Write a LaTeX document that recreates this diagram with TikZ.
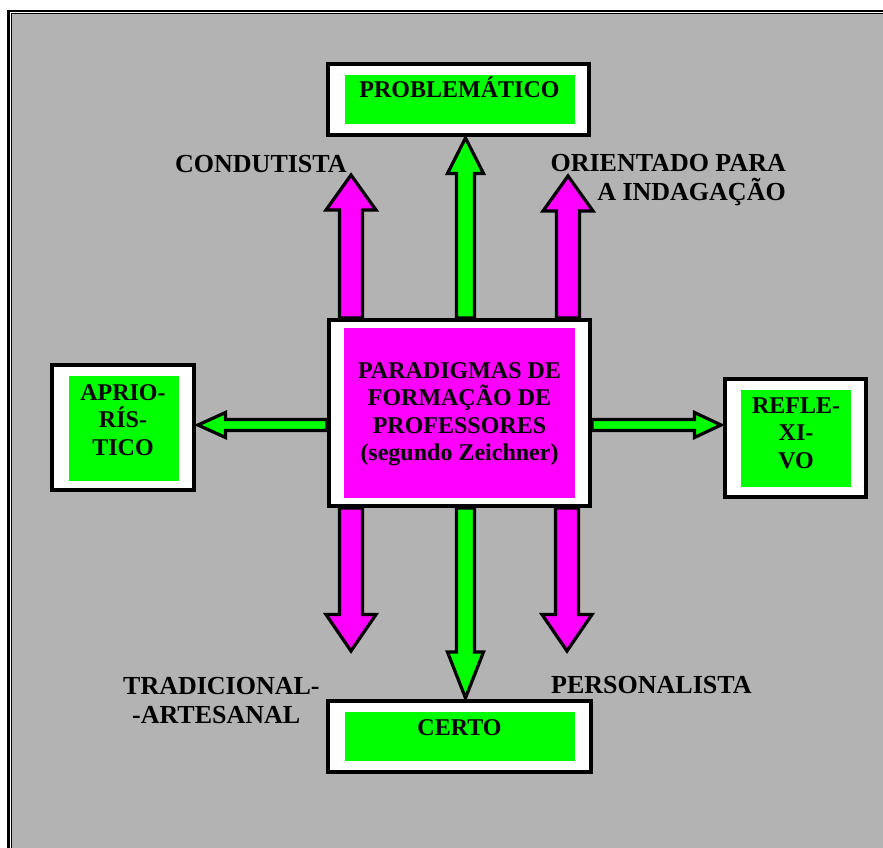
\documentclass[tikz,border=0pt]{standalone}
\usepackage{fontspec}
\setmainfont{Liberation Serif}
\usetikzlibrary{calc}

\definecolor{panelgray}{RGB}{179,179,179}
\definecolor{brightgreen}{RGB}{0,255,0}
\definecolor{brightmagenta}{RGB}{255,0,255}

\pgfdeclarelayer{base}
\pgfdeclarelayer{shafts}
\pgfsetlayers{base,shafts,main}

% stacked lines sharing one baseline grid; the node's base is the first line
\newcommand\rows[2]{\begin{tabular}[t]{@{}#1@{}}#2\end{tabular}}

% vertical block arrow: from #1 to tip #2, half shaft #3, half head #4, head length #5, fill #6
\newcommand\varrow[6]{%
  \draw[blockline,fill=#6] let \p1=(#1), \p2=(#2),
      \n2={ifthenelse(\y2>\y1,-1,1)*#5} in
    (\x1-#3,\y1) -- (\x1-#3,\y2+\n2) -- (\x1-#4,\y2+\n2) -- (\x1,\y2)
    -- (\x1+#4,\y2+\n2) -- (\x1+#3,\y2+\n2) -- (\x1+#3,\y1) -- cycle;}

% horizontal block arrow, same arguments
\newcommand\harrow[6]{%
  \draw[blockline,fill=#6] let \p1=(#1), \p2=(#2),
      \n2={ifthenelse(\x2>\x1,-1,1)*#5} in
    (\x1,\y1-#3) -- (\x2+\n2,\y1-#3) -- (\x2+\n2,\y1-#4) -- (\x2,\y1)
    -- (\x2+\n2,\y1+#4) -- (\x2+\n2,\y1+#3) -- (\x1,\y1+#3) -- cycle;}

\begin{document}
\begin{tikzpicture}[x=1pt, y=-1pt,
  frame/.style={draw=black, line width=4pt, fill=white, inner sep=0pt},
  panel/.style={fill=#1, inner sep=0pt},
  blockline/.style={draw=black, line width=3.2pt},
  caption/.style={font=\fontsize{26}{29.5}\selectfont\bfseries, inner sep=0pt},
  boxtext/.style={font=\fontsize{24}{27.5}\selectfont\bfseries, inner sep=0pt}]

\useasboundingbox (0,0) rectangle (883,848);

% page background with the double rule along top and left
\begin{pgfonlayer}{base}
  \fill[white] (0,0) rectangle (883,848);
  \fill[panelgray] (12,14.5) rectangle (884,849);
  \draw[line width=2.3pt] (8.5,849) |- (884,10.8);
  \draw[line width=1pt] (11.6,849) |- (884,14);
\end{pgfonlayer}

% framed boxes
\node[frame, minimum width=261pt, minimum height=186pt] (hub) at (459.5,413) {};
\node[panel=brightmagenta, minimum width=231pt, minimum height=170pt] (hub-in) at (459.5,413) {};

\node[frame, minimum width=261pt, minimum height=71pt] (problem) at (458.5,99.5) {};
\node[panel=brightgreen, minimum width=230pt, minimum height=49pt] (problem-in) at (460,99.5) {};

\node[frame, minimum width=263pt, minimum height=71pt] (certo) at (459.5,736.5) {};
\node[panel=brightgreen, minimum width=230pt, minimum height=49pt] (certo-in) at (460,736.5) {};

\node[frame, minimum width=142pt, minimum height=125pt] (apriori) at (123,427.5) {};
\node[panel=brightgreen, minimum width=110pt, minimum height=105pt] (apriori-in) at (124,428.5) {};

\node[frame, minimum width=141pt, minimum height=118pt] (reflex) at (795.5,438) {};
\node[panel=brightgreen, minimum width=110pt, minimum height=97pt] (reflex-in) at (796,438.5) {};

% box texts
\node[boxtext, anchor=base] (hub-text) at (459.5,378)
  {\rows{c}{\smash{PARADIGMAS DE}\\ \smash{FORMAÇÃO DE}\\ \smash{PROFESSORES}\\ \smash{(segundo Zeichner)}}};
\node[boxtext, anchor=base] (problem-text) at (459.5,98) {PROBLEMÁTICO};
\node[boxtext, anchor=base] (certo-text) at (459.5,735) {CERTO};
\node[boxtext, anchor=base] (apriori-text) at (123,400)
  {\rows{c}{\smash{APRIO-}\\ \smash{RÍS-}\\ \smash{TICO}}};
\node[boxtext, anchor=base] (reflex-text) at (796,413)
  {\rows{c}{\smash{REFLE-}\\ \smash{XI-}\\ \smash{VO}}};

% free-standing captions
\node[caption, anchor=base west] (condutista) at (175,172) {CONDUTISTA};
\node[caption, anchor=base east] (indagacao) at (786,171)
  {\rows{r}{\smash{ORIENTADO PARA}\\ \smash{A INDAGAÇÃO}}};
\node[caption, anchor=base west] (tradicional) at (123,694)
  {\rows{l}{\smash{TRADICIONAL-}\\ \smash{\hspace*{9pt}-ARTESANAL}}};
\node[caption, anchor=base west] (personalista) at (551,693) {PERSONALISTA};

% arrow columns and tips
\coordinate (colM) at (465.5,0);
\coordinate (axis) at (0,425);
\coordinate (tipCond) at (351,175);
\coordinate (tipInd) at (568,176);
\coordinate (tipTrad) at (351,651);
\coordinate (tipPers) at (567,651);

\begin{pgfonlayer}{shafts}
  \varrow{hub.north -| tipCond}{tipCond}{11.5pt}{25pt}{35}{brightmagenta}
  \varrow{hub.north -| tipInd}{tipInd}{11.5pt}{25pt}{35}{brightmagenta}
  \varrow{hub.north -| colM}{[yshift=-1pt]problem.south -| colM}{9pt}{18pt}{35.5}{brightgreen}
  \varrow{hub.south -| tipTrad}{tipTrad}{11.5pt}{25pt}{36.5}{brightmagenta}
  \varrow{hub.south -| tipPers}{tipPers}{11.5pt}{25pt}{36.5}{brightmagenta}
  \varrow{hub.south -| colM}{[yshift=1pt]certo.north -| colM}{9pt}{18pt}{46}{brightgreen}
  \harrow{hub.west |- axis}{[xshift=2pt]apriori.east |- axis}{5.5pt}{12.5pt}{27.5}{brightgreen}
  \harrow{hub.east |- axis}{[xshift=-2pt]reflex.west |- axis}{5.5pt}{12.5pt}{26.5}{brightgreen}
\end{pgfonlayer}

\end{tikzpicture}
\end{document}
